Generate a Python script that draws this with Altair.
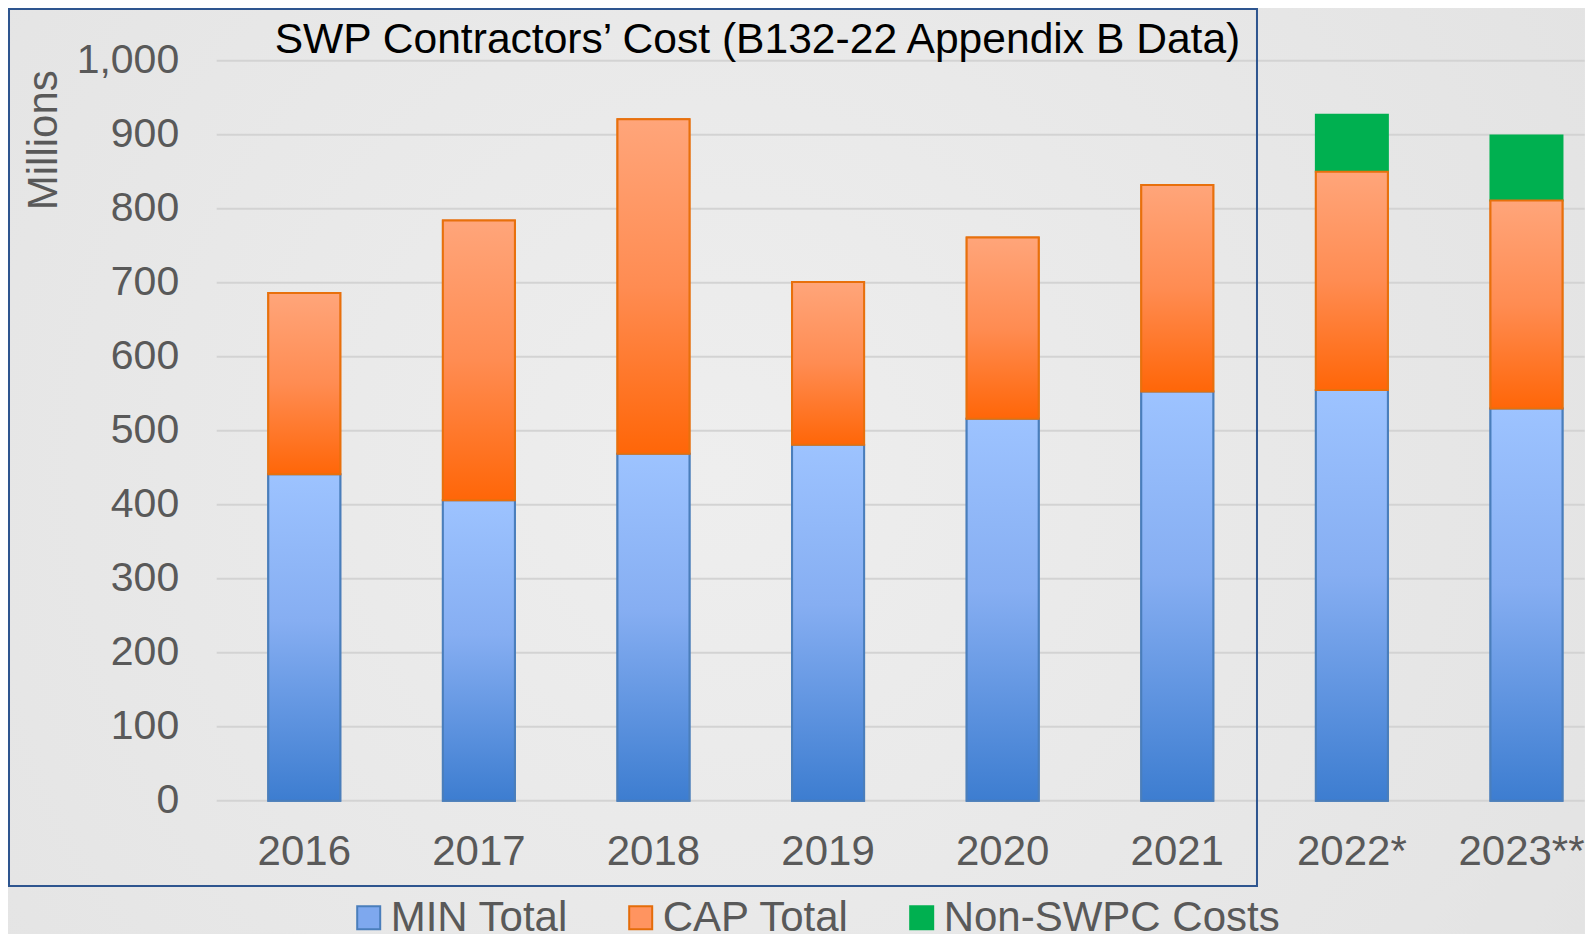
import altair as alt
import pandas as pd

# ---------------- data ----------------
years = ["2016", "2017", "2018", "2019", "2020", "2021", "2022*", "2023**"]
min_total = [441, 406, 469, 481, 516, 553, 555, 530]
cap_total = [245, 378, 452, 220, 245, 279, 295, 281]
non_swpc = [0, 0, 0, 0, 0, 0, 77, 88]
series = ["MIN Total", "CAP Total", "Non-SWPC Costs"]
y_ticks = [0, 100, 200, 300, 400, 500, 600, 700, 800, 900, 1000]
title_text = "SWP Contractors\u2019 Cost (B132-22 Appendix B Data)"

rows = []
for i, yr in enumerate(years):
    base = 0
    for s, vals in zip(series, [min_total, cap_total, non_swpc]):
        v = vals[i]
        if v > 0:
            rows.append({"year": yr, "series": s, "start": base, "end": base + v})
        base += v
df = pd.DataFrame(rows)
ticks_df = pd.DataFrame({"start": y_ticks})
one = pd.DataFrame({"k": [0]})

FONT = "Liberation Sans"
GREY = "#595959"
W, H = 1368, 740

x_enc = alt.X(
    "year:N",
    sort=years,
    scale=alt.Scale(paddingInner=0.5876, paddingOuter=0.2113, align=0.699),
    axis=alt.Axis(
        title=None, labelAngle=0, labelFontSize=42, labelColor=GREY, labelFont=FONT,
        ticks=False, tickSize=0, domain=False, grid=False, zindex=1,
        labelPadding=64, labelBaseline="alphabetic", labelLimit=400,
        labelOffset={"condition": {"test": "datum.value == '2023**'", "value": -5}, "value": 0},
    ),
)
y_scale = alt.Scale(domain=[0, 1000], nice=False)
y_enc = alt.Y(
    "start:Q",
    scale=y_scale,
    axis=alt.Axis(
        values=y_ticks, format=",d", grid=False, domain=False, ticks=False, tickSize=0,
        zindex=1,
        labelFontSize=41, labelColor=GREY, labelFont=FONT, labelPadding=38,
        title="Millions", titleFontSize=42, titleColor=GREY, titleFont=FONT,
        titleFontWeight="normal", titleAngle=270, titleX=-160, titleY=79,
        titleAlign="center", titleBaseline="alphabetic",
    ),
)
y_plain = alt.Y("start:Q", scale=y_scale)

# background with a soft radial light
bg = alt.Chart(one).mark_rect(
    fill=alt.RadialGradient(
        gradient="radial",
        stops=[alt.GradientStop(color="#eeeeee", offset=0),
               alt.GradientStop(color="#e1e1e1", offset=1)],
        x1=0.45, y1=0.5, r1=0, x2=0.45, y2=0.5, r2=0.75,
    )
).encode(x=alt.value(-208.7), x2=alt.value(W), y=alt.value(-52.7), y2=alt.value(H + 133))

grid = alt.Chart(ticks_df).mark_rule(color="#d3d3d3", strokeWidth=2).encode(y=y_plain)

legend = alt.Legend(
    orient="none", legendX=131, legendY=836, direction="horizontal", title=None,
    labelFontSize=42, labelColor=GREY, labelFont=FONT, symbolType="square",
    symbolSize=529, symbolStrokeWidth=2, labelOffset=1, columnPadding=51, padding=0,
    labelLimit=600, zindex=1,
)

base = alt.Chart(df).mark_bar(strokeWidth=2).encode(
    x=x_enc,
    y=y_enc,
    y2="end:Q",
    color=alt.Color("series:N", sort=series,
                    scale=alt.Scale(domain=series, range=["#7ea8ee", "#ff9460", "#00b050"]),
                    legend=legend),
    stroke=alt.Stroke("series:N", sort=series,
                      scale=alt.Scale(domain=series, range=["#4a7ebb", "#e46c0a", "#00b050"]),
                      legend=legend),
)

blue_grad = alt.LinearGradient(
    gradient="linear", x1=0, x2=0, y1=0, y2=1,
    stops=[alt.GradientStop(color="#9dc3ff", offset=0),
           alt.GradientStop(color="#86aef2", offset=0.45),
           alt.GradientStop(color="#3d7dd0", offset=1)],
)
orange_grad = alt.LinearGradient(
    gradient="linear", x1=0, x2=0, y1=0, y2=1,
    stops=[alt.GradientStop(color="#ffa57a", offset=0),
           alt.GradientStop(color="#ff8c52", offset=0.5),
           alt.GradientStop(color="#ff6608", offset=1)],
)

min_layer = alt.Chart(df).transform_filter(alt.datum.series == "MIN Total").mark_bar(
    fill=blue_grad, stroke="#4a7ebb", strokeWidth=2
).encode(x=alt.X("year:N", sort=years), y=y_plain, y2="end:Q")

cap_layer = alt.Chart(df).transform_filter(alt.datum.series == "CAP Total").mark_bar(
    fill=orange_grad, stroke="#e8700c", strokeWidth=2
).encode(x=alt.X("year:N", sort=years), y=y_plain, y2="end:Q")

box = alt.Chart(one).mark_rect(fillOpacity=0, stroke="#2e558f", strokeWidth=2).encode(
    x=alt.value(-207.7), x2=alt.value(1040.3), y=alt.value(-51.7), y2=alt.value(825.3)
)

title = alt.Chart(one).mark_text(
    text=title_text, font=FONT, fontSize=42.6, color="#000000",
    align="center", baseline="alphabetic",
).encode(x=alt.value(540.8), y=alt.value(-7.7))

chart = (
    alt.layer(bg, grid, base, min_layer, cap_layer, box, title)
    .properties(
        width=W, height=H,
        autosize=alt.AutoSizeParams(type="none"),
        padding={"left": 208.7, "top": 52.7, "right": 0, "bottom": 133},
        background="#e5e5e5",
    )
    .configure_view(strokeWidth=0)
)

chart.save("out.html", embed_options={"renderer": "svg", "actions": False})
